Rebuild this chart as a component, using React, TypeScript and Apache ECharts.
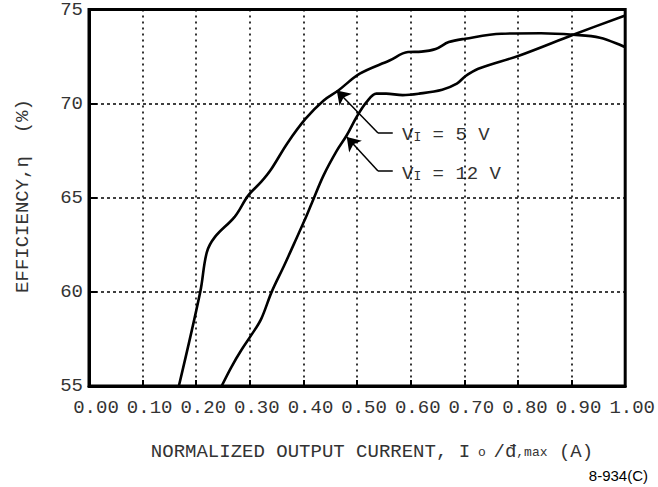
import React, { useEffect, useRef } from "react";
import * as echarts from "echarts";

// Efficiency curves (x = normalized output current, y = efficiency %)
const v5X = [0.1676, 0.2075, 0.2197, 0.2350, 0.2720, 0.2965, 0.3210, 0.3394, 0.3700, 0.4040, 0.4377, 0.4650, 0.5050, 0.5604, 0.5950, 0.6200, 0.6464, 0.6710, 0.7017, 0.7690, 0.8430, 0.9030, 0.9530, 1.0000];
const v5Y = [55.0, 60.0, 62.1, 62.92, 64.0, 65.1, 65.84, 66.5, 67.9, 69.2, 70.17, 70.7, 71.59, 72.29, 72.74, 72.76, 72.9, 73.27, 73.45, 73.71, 73.74, 73.66, 73.5, 73.0];

const v12X = [0.2474, 0.2658, 0.2842, 0.3026, 0.3210, 0.3407, 0.3640, 0.3823, 0.4020, 0.4160, 0.4377, 0.4622, 0.4807, 0.4991, 0.5175, 0.5360, 0.5540, 0.5850, 0.6157, 0.6587, 0.6860, 0.7017, 0.7260, 0.8030, 0.9030, 1.0000];
const v12Y = [55.0, 56.02, 56.91, 57.7, 58.55, 60.0, 61.4, 62.55, 63.8, 64.75, 66.2, 67.5, 68.32, 69.29, 70.08, 70.53, 70.53, 70.45, 70.53, 70.74, 71.06, 71.45, 71.85, 72.56, 73.66, 74.68];

// Leader lines for the annotations (data coordinates)
const leaderTips = [[0.462, 70.70], [0.4807, 68.23]];
const leaderBends = [[0.539, 68.44], [0.539, 66.42]];
const leaderEnds = [[0.5665, 68.44], [0.5665, 66.42]];
const leaderLabels = ["5 V", "12 V"];

const X_MIN = 0, X_MAX = 1, X_STEP = 0.1;
const Y_MIN = 55, Y_MAX = 75, Y_STEP = 5;

const MONO = '"Liberation Mono", "DejaVu Sans Mono", monospace';

export default function App() {
  const ref = useRef<HTMLDivElement>(null);
  useEffect(() => {
    if (!ref.current) return;
    const chart = echarts.init(ref.current, null, { renderer: "svg" });
    const pairs = (xs: number[], ys: number[]) => xs.map((x, i) => [x, ys[i]]);
    const curveStyle = { color: "#000", width: 2.6 };
    chart.setOption({
      animation: false,
      grid: {
        left: 89, right: 26, top: 9, bottom: 101,
        show: true, borderColor: "#000", borderWidth: 3, backgroundColor: "transparent",
      },
      xAxis: {
        type: "value", min: X_MIN, max: X_MAX, interval: X_STEP,
        axisLine: { show: true, lineStyle: { color: "#000", width: 3 } },
        axisTick: { show: true, inside: true, length: 6, lineStyle: { color: "#000", width: 2 } },
        axisLabel: {
          margin: 12, fontFamily: MONO, fontSize: 19, color: "#333", padding: [0, 0, 0, 14],
          formatter: (v: number) => v.toFixed(2),
        },
        splitLine: { show: true, lineStyle: { color: "#000", width: 1.6, type: [2, 4] } },
      },
      yAxis: {
        type: "value", min: Y_MIN, max: Y_MAX, interval: Y_STEP,
        axisLine: { show: true, lineStyle: { color: "#000", width: 3 } },
        axisTick: { show: true, inside: true, length: 8, lineStyle: { color: "#000", width: 2 } },
        axisLabel: { margin: 6, fontFamily: MONO, fontSize: 19, color: "#333" },
        splitLine: { show: true, lineStyle: { color: "#000", width: 1.5, type: [3, 3] } },
      },
      series: [
        {
          name: "VI = 5 V", type: "line", data: pairs(v5X, v5Y), showSymbol: false,
          smooth: 0.35, lineStyle: curveStyle, itemStyle: { color: "#000" },
        },
        {
          name: "VI = 12 V", type: "line", data: pairs(v12X, v12Y), showSymbol: false,
          smooth: 0.35, lineStyle: curveStyle, itemStyle: { color: "#000" },
        },
        {
          type: "lines", coordinateSystem: "cartesian2d", symbol: "none",
          lineStyle: { color: "#000", width: 1.5, opacity: 1 },
          data: leaderEnds.map((e, i) => ({ coords: [e, leaderBends[i]] })),
        },
        {
          type: "lines", coordinateSystem: "cartesian2d", symbol: ["none", "arrow"], symbolSize: 13,
          lineStyle: { color: "#000", width: 1.5, opacity: 1 },
          itemStyle: { color: "#000" },
          data: leaderBends.map((b, i) => ({ coords: [b, leaderTips[i]] })),
        },
      ],
      graphic: [
        {
          type: "text", x: 23, y: 196, rotation: Math.PI / 2,
          style: {
            text: "EFFICIENCY,η  (%)", fontFamily: MONO, fontSize: 19, fill: "#333",
            align: "center", verticalAlign: "middle",
          },
        },
        {
          type: "text", x: 372, y: 452,
          style: {
            text: "{a|NORMALIZED OUTPUT CURRENT, I}{s| o }{a|/đ}{s|,max}{a| (A)}",
            align: "center", verticalAlign: "middle", fill: "#333",
            rich: {
              a: { fontFamily: MONO, fontSize: 19, fill: "#333" },
              s: { fontFamily: MONO, fontSize: 13, fill: "#333" },
            },
          },
        },
        {
          type: "text", x: 648, y: 475,
          style: {
            text: "8-934(C)", fontFamily: '"Liberation Sans", Arial, sans-serif', fontSize: 15,
            fill: "#000", align: "right", verticalAlign: "middle",
          },
        },
        ...leaderLabels.map((lab, i) => ({
          type: "text", x: 402, y: i === 0 ? 135 : 174,
          style: {
            text: `{v|V}{i|I}{v| = ${lab}}`,
            verticalAlign: "middle", fill: "#333",
            rich: {
              v: { fontFamily: MONO, fontSize: 19, fill: "#333" },
              i: { fontFamily: MONO, fontSize: 13, fill: "#333", padding: [4, 0, 0, 0] },
            },
          },
        })),
      ],
    });
    return () => chart.dispose();
  }, []);
  return (
    <div
      ref={ref}
      style={{ position: "absolute", left: 0, top: 0, width: 658, height: 487, background: "#fff" }}
    />
  );
}
